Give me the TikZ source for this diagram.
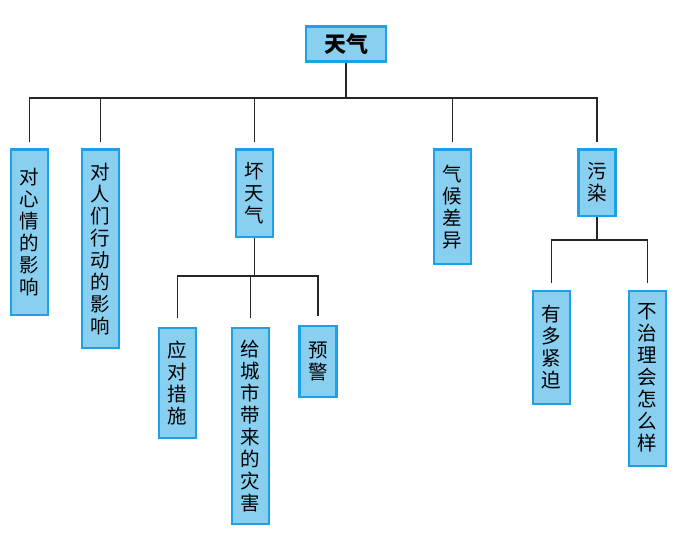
\documentclass[tikz,border=0pt]{standalone}
\usepackage{fontspec}
\newfontfamily\cjk{Noto Sans CJK SC}
\usetikzlibrary{positioning}
\definecolor{boxfill}{RGB}{137,207,240}
\definecolor{boxline}{RGB}{28,160,230}
\tikzset{
  topic/.style={draw=boxline, fill=boxfill, line width=2.4pt, inner sep=0pt,
    minimum width=37pt, anchor=north, align=center,
    font=\cjk\fontsize{19.5}{22}\selectfont},
  link/.style={line width=1.3pt, black!85}
}

\begin{document}
\begin{tikzpicture}[x=1pt, y=-1pt]
  \useasboundingbox (0,0) rectangle (676,545);

  % root
  \node[topic, minimum width=80pt, minimum height=35pt,
    font=\cjk\bfseries\fontsize{22}{24}\selectfont] (tianqi) at (346,25.5) {天气};

  % first level
  \node[topic, minimum height=165pt] (xinqing) at (29.5,148.5) {对\\心\\情\\的\\影\\响};
  \node[topic, minimum height=198pt] (xingdong) at (100.5,148.5) {对\\人\\们\\行\\动\\的\\影\\响};
  \node[topic, minimum height=87pt] (huai) at (254.5,148.5) {坏\\天\\气};
  \node[topic, minimum height=114pt] (qihou) at (452.5,148.5) {气\\候\\差\\异};
  \node[topic, minimum height=66pt] (wuran) at (597,148.5) {污\\染};

  % under bad weather
  \node[topic, minimum height=110pt] (yingdui) at (177.5,326.5) {应\\对\\措\\施};
  \node[topic, minimum height=196pt] (zaihai) at (250.5,326.5) {给\\城\\市\\带\\来\\的\\灾\\害};
  \node[topic, minimum height=71pt] (yujing) at (318,324.5) {预\\警};

  % under pollution
  \node[topic, minimum height=113pt] (jinpo) at (551.5,289.5) {有\\多\\紧\\迫};
  \node[topic, minimum height=175pt] (buzhili) at (647.5,289.5) {不\\治\\理\\会\\怎\\么\\样};

  % connectors
  \coordinate (bar) at (0,98);
  \draw[link] (tianqi.south) -- (tianqi.south |- bar);
  \draw[link] ([yshift=6pt]xinqing.north) -- (xinqing.north |- bar)
    -- (wuran.north |- bar) -- ([yshift=6pt]wuran.north);
  \foreach \n in {xingdong,huai,qihou}
    \draw[link] (\n.north |- bar) -- ([yshift=6pt]\n.north);

  \coordinate (barhuai) at (0,276);
  \draw[link] (huai.south) -- (huai.south |- barhuai);
  \draw[link] ([yshift=9pt]yingdui.north) -- (yingdui.north |- barhuai)
    -- (yujing.north |- barhuai) -- ([yshift=9pt]yujing.north);
  \draw[link] (zaihai.north |- barhuai) -- ([yshift=9pt]zaihai.north);

  \coordinate (barwuran) at (0,240);
  \draw[link] (wuran.south) -- (wuran.south |- barwuran);
  \draw[link] ([yshift=7pt]jinpo.north) -- (jinpo.north |- barwuran)
    -- (buzhili.north |- barwuran) -- ([yshift=7pt]buzhili.north);
\end{tikzpicture}
\end{document}
